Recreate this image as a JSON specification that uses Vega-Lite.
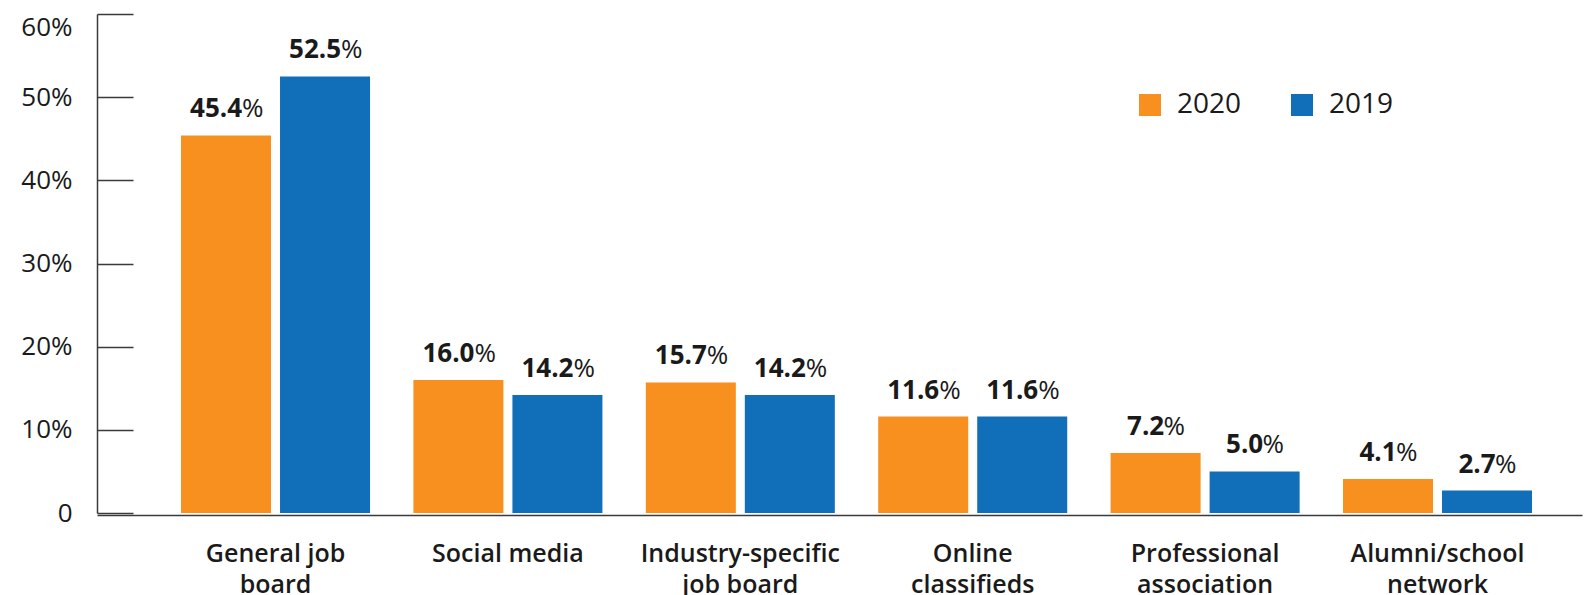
{
  "$schema": "https://vega.github.io/schema/vega-lite/v6.json",
  "width": 1485,
  "height": 499,
  "autosize": {"type": "none"},
  "padding": {"left": 97, "top": 14, "right": 4, "bottom": 82},
  "background": "white",
  "data": {
    "values": [
      {"source": "General job|board", "year": "2020", "share": 45.4},
      {"source": "General job|board", "year": "2019", "share": 52.5},
      {"source": "Social media", "year": "2020", "share": 16.0},
      {"source": "Social media", "year": "2019", "share": 14.2},
      {"source": "Industry-specific|job board", "year": "2020", "share": 15.7},
      {"source": "Industry-specific|job board", "year": "2019", "share": 14.2},
      {"source": "Online|classifieds", "year": "2020", "share": 11.6},
      {"source": "Online|classifieds", "year": "2019", "share": 11.6},
      {"source": "Professional|association", "year": "2020", "share": 7.2},
      {"source": "Professional|association", "year": "2019", "share": 5.0},
      {"source": "Alumni/school|network", "year": "2020", "share": 4.1},
      {"source": "Alumni/school|network", "year": "2019", "share": 2.7}
    ]
  },
  "encoding": {
    "x": {
      "field": "source",
      "type": "nominal",
      "sort": null,
      "scale": {"paddingInner": 0.1867, "paddingOuter": 0.2883, "align": 0.627},
      "axis": {
        "title": null,
        "labelAngle": 0,
        "ticks": false,
        "offset": 2,
        "domainColor": "#3a3a3a",
        "domainWidth": 1.5,
        "labelExpr": "split(datum.label, '|')",
        "labelLimit": 0,
        "labelFont": "Open Sans",
        "labelFontSize": 25,
        "labelFontWeight": 600,
        "labelColor": "#1a1a1a",
        "labelBaseline": "top",
        "labelPadding": 26,
        "labelLineHeight": 31
      }
    },
    "xOffset": {
      "field": "year",
      "type": "nominal",
      "sort": ["2020", "2019"],
      "scale": {"paddingInner": 0.0909, "paddingOuter": 0}
    },
    "y": {
      "field": "share",
      "type": "quantitative",
      "scale": {"domain": [0, 60], "nice": false},
      "axis": {
        "title": null,
        "grid": false,
        "values": [0, 10, 20, 30, 40, 50, 60],
        "tickSize": -36,
        "tickColor": "#3a3a3a",
        "tickWidth": 1.5,
        "domainColor": "#3a3a3a",
        "domainWidth": 1.5,
        "labelExpr": "datum.value == 0 ? '0' : datum.value + '%'",
        "labelFont": "Open Sans",
        "labelFontSize": 26,
        "labelColor": "#1a1a1a",
        "labelPadding": 61,
        "labelBaseline": {"condition": {"test": "datum.value == 60", "value": "top"}, "value": "middle"}
      }
    }
  },
  "layer": [
    {
      "mark": {"type": "bar"},
      "encoding": {
        "color": {
          "field": "year",
          "type": "nominal",
          "sort": ["2020", "2019"],
          "scale": {"domain": ["2020", "2019"], "range": ["#F7901E", "#116EB8"]},
          "legend": {
            "title": null,
            "orient": "none",
            "direction": "horizontal",
            "legendX": 1039,
            "legendY": 77,
            "symbolType": "square",
            "symbolSize": 484,
            "symbolStrokeWidth": 0,
            "symbolOpacity": 1,
            "labelFont": "Open Sans",
            "labelFontSize": 28,
            "labelFontWeight": 500,
            "labelColor": "#1a1a1a",
            "labelOffset": 13,
            "columnPadding": 46
          }
        }
      }
    },
    {
      "mark": {"type": "text", "font": "Open Sans", "fontSize": 26, "fontWeight": "bold", "color": "#1a1a1a", "align": "center", "baseline": "alphabetic", "dx": -10, "dy": -18},
      "encoding": {
        "text": {"field": "share", "type": "quantitative", "format": ".1f"}
      }
    },
    {
      "transform": [{"filter": "datum.share >= 10"}],
      "mark": {"type": "text", "font": "Open Sans", "fontSize": 26, "color": "#1a1a1a", "align": "left", "baseline": "alphabetic", "dx": 16, "dy": -18},
      "encoding": {
        "text": {"value": "%"}
      }
    },
    {
      "transform": [{"filter": "datum.share < 10"}],
      "mark": {"type": "text", "font": "Open Sans", "fontSize": 26, "color": "#1a1a1a", "align": "left", "baseline": "alphabetic", "dx": 8, "dy": -18},
      "encoding": {
        "text": {"value": "%"}
      }
    }
  ],
  "config": {"view": {"stroke": null}}
}
